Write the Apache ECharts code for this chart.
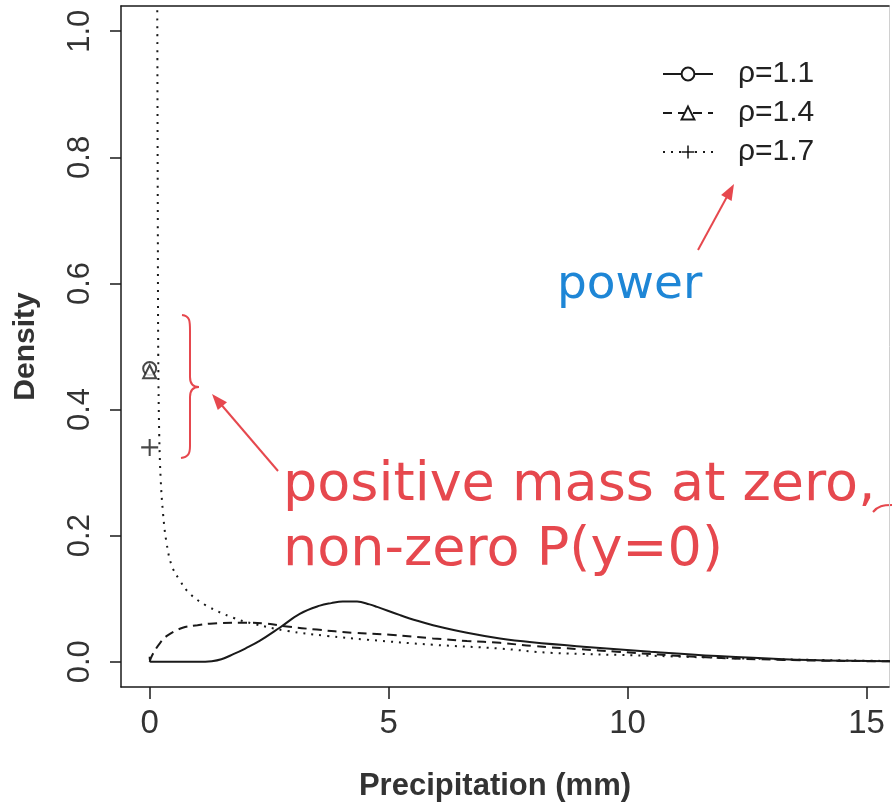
<!DOCTYPE html>
<html><head><meta charset="utf-8">
<script src="https://cdn.jsdelivr.net/npm/echarts@6/dist/echarts.min.js"></script>
<style>html,body{margin:0;padding:0;background:#fff}#c{width:892px;height:809px}</style>
</head><body><div id="c"></div>
<script>
// ---- data ----
const seriesNames = ['ρ=1.1', 'ρ=1.4', 'ρ=1.7'];
const xTicks = [0, 5, 10, 15];
const yTicks = [0, 0.2, 0.4, 0.6, 0.8, 1.0];

// rho = 1.1 (solid)
const xSolid = [0, 0.02, 0.5, 1.0, 1.3, 1.5, 1.75, 2.0, 2.3, 2.72, 3.14, 3.56, 3.8, 4.04, 4.34, 4.6, 4.76, 5.24, 5.6, 5.93, 6.64, 7.33, 8.0, 9.07, 10.48, 11.88, 13.26, 14.67, 15.6];
const ySolid = [0.008, 0, 0, 0, 0.001, 0.004, 0.012, 0.021, 0.033, 0.054, 0.076, 0.089, 0.093, 0.0955, 0.0955, 0.091, 0.087, 0.074, 0.065, 0.058, 0.046, 0.037, 0.031, 0.024, 0.016, 0.009, 0.004, 0.0015, 0.001];
// rho = 1.4 (dashed)
const xDash = [0, 0.05, 0.2, 0.36, 0.69, 1.0, 1.26, 1.89, 2.45, 2.87, 3.5, 4.25, 5.03, 5.93, 6.64, 7.33, 8.02, 9.0, 9.78, 11.52, 13.26, 14.67, 15.6];
const yDash = [0.0, 0.01, 0.028, 0.041, 0.054, 0.058, 0.0605, 0.062, 0.0605, 0.056, 0.051, 0.046, 0.043, 0.037, 0.033, 0.030, 0.025, 0.02, 0.016, 0.0075, 0.003, 0.0012, 0.0008];
// rho = 1.7 (dotted)
const xDot = [0.15, 0.16, 0.17, 0.18, 0.2, 0.23, 0.28, 0.35, 0.46, 0.63, 0.84, 1.19, 1.74, 2.16, 2.87, 3.71, 4.55, 5.93, 7.33, 8.38, 10.48, 12.57, 14.67, 15.6];
const yDot = [1.3, 1.0, 0.7, 0.48, 0.36, 0.29, 0.235, 0.19, 0.153, 0.129, 0.108, 0.089, 0.07, 0.0605, 0.049, 0.041, 0.035, 0.027, 0.021, 0.0143, 0.0096, 0.005, 0.002, 0.0012];

// point masses at zero, P(y=0)
const massX = [0, 0, 0];
const massY = [0.465, 0.46, 0.34];

// ---- chart ----
const pairs = (xs, ys) => xs.map((x, i) => [x, ys[i]]);
const INK = '#1a1a1a';
const RED = '#e6484e';
const BLUE = '#1e86d6';
const PLUS = 'path://M44,0H56V44H100V56H56V100H44V56H0V44H44Z';
const symbols = ['emptyCircle', 'emptyTriangle', PLUS];
const dashes = ['solid', [9, 6], [2, 6]];
const curves = [pairs(xSolid, ySolid), pairs(xDash, yDash), pairs(xDot, yDot)];

const series = [];
seriesNames.forEach((n, i) => {
  series.push({
    name: n, type: 'line', data: curves[i], smooth: 0.4, showSymbol: false,
    symbol: symbols[i], silent: true, clip: true,
    lineStyle: { color: INK, width: 2, type: dashes[i] },
    itemStyle: { color: INK }
  });
});
seriesNames.forEach((n, i) => {
  series.push({
    name: n, type: 'scatter', data: [[massX[i], massY[i]]],
    symbol: symbols[i], symbolSize: i === 2 ? 17 : 13, clip: true,
    itemStyle: { color: INK, borderWidth: 1.5 }
  });
});

const stroke = { stroke: RED, lineWidth: 2, fill: 'none' };
const bez = (x1, y1, c1x, c1y, c2x, c2y, x2, y2) => ({ type: 'bezierCurve', silent: true,
  shape: { x1, y1, cpx1: c1x, cpy1: c1y, cpx2: c2x, cpy2: c2y, x2, y2 }, style: stroke });
const seg = (x1, y1, x2, y2) => ({ type: 'line', silent: true, shape: { x1, y1, x2, y2 }, style: stroke });

const axisFont = { fontFamily: 'Liberation Sans', color: '#333' };
const option = {
  backgroundColor: '#fff',
  animation: false,
  grid: { left: 121, top: 6, width: 768, height: 681, show: false },
  legend: {
    data: seriesNames, orient: 'vertical', left: 657, top: 54,
    itemWidth: 50, itemHeight: 16, itemGap: 9, selectedMode: false,
    textStyle: { fontFamily: 'Liberation Sans', fontSize: 30, color: '#222', padding: [0, 0, 0, 20] }
  },
  xAxis: [{
    type: 'value', min: -0.6, max: 15.47, position: 'bottom',
    axisLine: { show: true, onZero: false, lineStyle: { color: INK, width: 1.5 } },
    axisTick: { show: true, length: 12, customValues: xTicks, lineStyle: { color: INK, width: 1.5 } },
    axisLabel: { customValues: xTicks, margin: 20, fontSize: 33, ...axisFont },
    splitLine: { show: false },
    name: 'Precipitation (mm)', nameLocation: 'middle', nameGap: 84,
    nameTextStyle: { fontFamily: 'Liberation Sans', fontWeight: 'bold', fontSize: 31, color: '#333', padding: [0, 20, 0, 0] }
  }, {
    type: 'value', min: -0.6, max: 15.47, position: 'top',
    axisLine: { show: true, onZero: false, lineStyle: { color: INK, width: 1.5 } },
    axisTick: { show: false }, axisLabel: { show: false }, splitLine: { show: false }
  }],
  yAxis: [{
    type: 'value', min: -0.04, max: 1.04, position: 'left',
    axisLine: { show: true, onZero: false, lineStyle: { color: INK, width: 1.5 } },
    axisTick: { show: true, length: 11, customValues: yTicks, lineStyle: { color: INK, width: 1.5 } },
    axisLabel: { customValues: yTicks, rotate: 90, margin: 25, fontSize: 31, formatter: v => v.toFixed(1), ...axisFont },
    splitLine: { show: false },
    name: 'Density', nameLocation: 'middle', nameGap: 80,
    nameTextStyle: { fontFamily: 'Liberation Sans', fontWeight: 'bold', fontSize: 30, color: '#333' }
  }, {
    type: 'value', min: -0.04, max: 1.04, position: 'right',
    axisLine: { show: true, onZero: false, lineStyle: { color: '#d0d0d0', width: 1 } },
    axisTick: { show: false }, axisLabel: { show: false }, splitLine: { show: false }
  }],
  series: series,
  graphic: [
    // curly brace
    bez(182, 315, 190, 316, 190, 321, 190, 331),
    seg(190, 331, 190, 377),
    bez(190, 377, 190, 384, 193, 387, 199, 387),
    bez(199, 387, 193, 387, 190, 390, 190, 397),
    seg(190, 397, 190, 446),
    bez(190, 446, 190, 454, 188, 457, 181, 458),
    // arrow to brace
    seg(278, 471, 219, 402),
    { type: 'polygon', silent: true, shape: { points: [[212, 394], [227, 402.3], [217.8, 410.1]] }, style: { fill: RED } },
    // arrow to legend
    seg(698, 250, 729, 193),
    { type: 'polygon', silent: true, shape: { points: [[734, 184], [731.6, 200.9], [721.1, 195.1]] }, style: { fill: RED } },
    // line leaving to the right edge
    bez(873, 512, 878, 506, 883, 505, 892, 505),
    // annotation texts
    { type: 'text', silent: true, x: 283, y: 486, style: { text: 'positive mass at zero,', fontFamily: 'DejaVu Sans', fontSize: 54, fill: RED, align: 'left', verticalAlign: 'middle' } },
    { type: 'text', silent: true, x: 283, y: 551, style: { text: 'non-zero P(y=0)', fontFamily: 'DejaVu Sans', fontSize: 54, fill: RED, align: 'left', verticalAlign: 'middle' } },
    { type: 'text', silent: true, x: 557, y: 286, style: { text: 'power', fontFamily: 'DejaVu Sans', fontSize: 47, fill: BLUE, align: 'left', verticalAlign: 'middle' } }
  ]
};
const chart = echarts.init(document.getElementById('c'), null, { renderer: 'canvas' });
chart.setOption(option);
</script>
</body></html>
